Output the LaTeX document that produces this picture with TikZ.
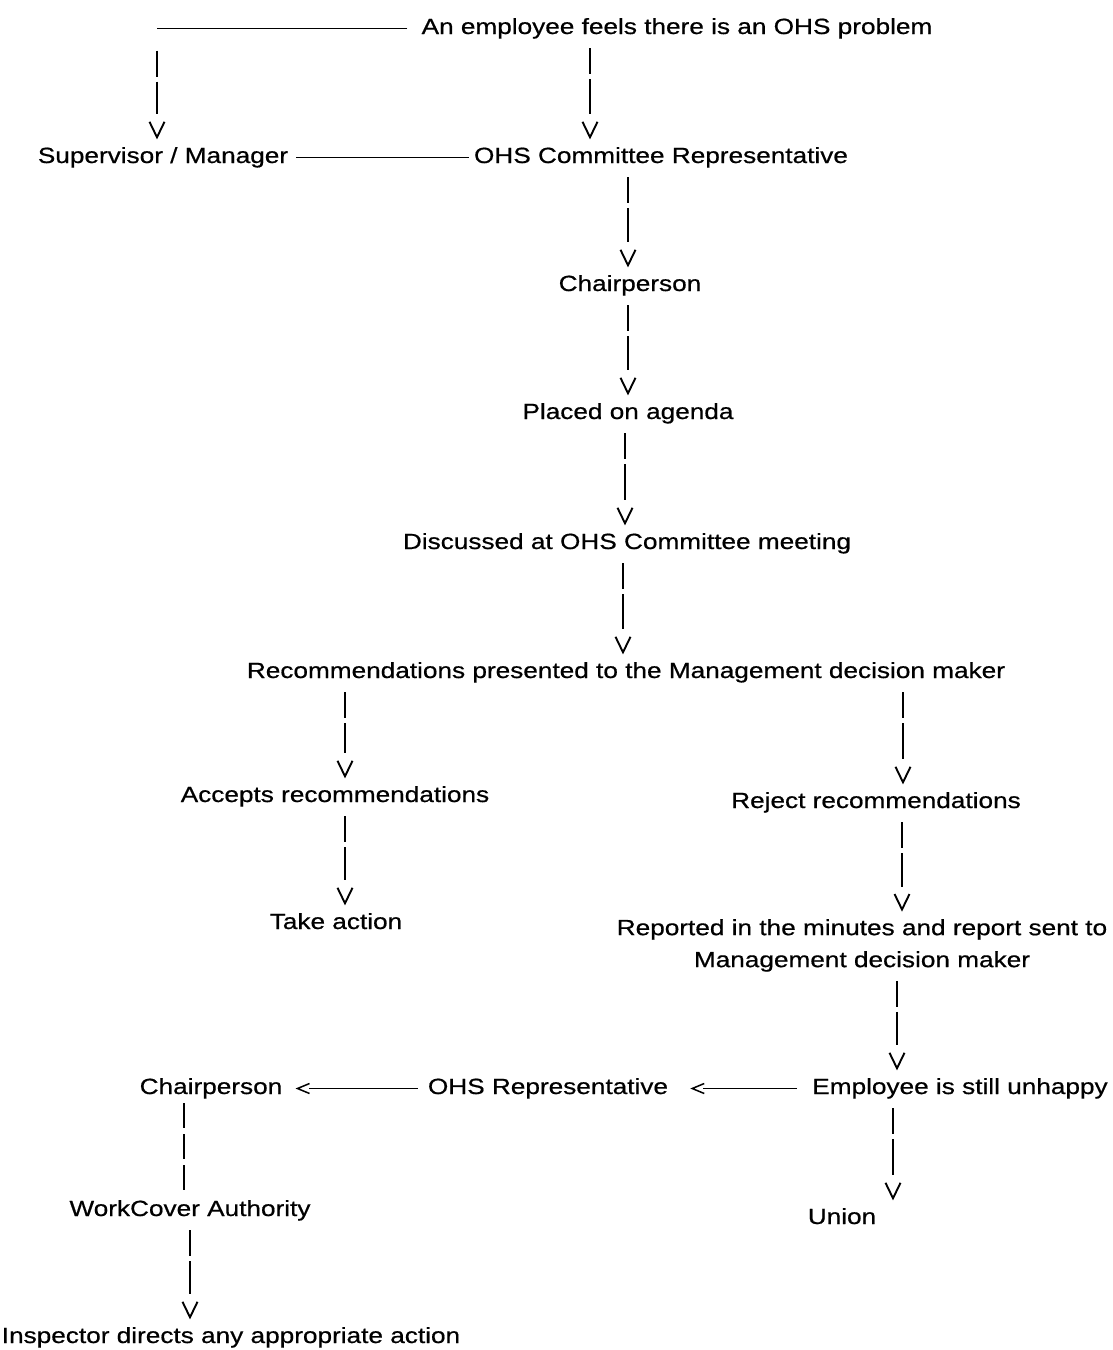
\documentclass[tikz,border=0pt]{standalone}
\usepackage{fontspec}
\setmainfont[FakeStretch=1.19,FakeBold=0.6]{Liberation Sans}
\usetikzlibrary{arrows.meta}

\pgfdeclarearrow{
  name = AsciiV,
  parameters = {},
  setup code = {
    \pgfarrowssettipend{0pt}
    \pgfarrowssetbackend{-15.5pt}
    \pgfarrowssetlineend{-23pt}
    \pgfarrowshullpoint{0pt}{0pt}
    \pgfarrowsupperhullpoint{-15.5pt}{7.5pt}
  },
  drawing code = {
    \pgfsetdash{}{0pt}
    \pgfsetmiterjoin
    \pgfpathmoveto{\pgfqpoint{-15.5pt}{7.5pt}}
    \pgfpathlineto{\pgfqpoint{0pt}{0pt}}
    \pgfpathlineto{\pgfqpoint{-15.5pt}{-7.5pt}}
    \pgfusepathqstroke
  }
}
\pgfdeclarearrow{
  name = AsciiLt,
  parameters = {},
  setup code = {
    \pgfarrowssettipend{0pt}
    \pgfarrowssetbackend{-12pt}
    \pgfarrowssetlineend{-11pt}
    \pgfarrowshullpoint{0pt}{0pt}
    \pgfarrowsupperhullpoint{-12pt}{5pt}
  },
  drawing code = {
    \pgfsetdash{}{0pt}
    \pgfsetmiterjoin
    \pgfpathmoveto{\pgfqpoint{-12pt}{5pt}}
    \pgfpathlineto{\pgfqpoint{0pt}{0pt}}
    \pgfpathlineto{\pgfqpoint{-12pt}{-5pt}}
    \pgfusepathqstroke
  }
}

\tikzset{
  lbl/.style={font=\fontsize{22pt}{26pt}\selectfont, inner sep=0pt,
    text height=16pt, text depth=5pt, anchor=base},
  stem/.style={line width=1.9pt, dash pattern=on 26pt off 5pt on 200pt off 10pt},
  stemthree/.style={line width=1.9pt, dash pattern=on 25pt off 6pt},
  vflow/.style={stem, -{AsciiV}, shorten <=9pt, shorten >=9.5pt},
  hline/.style={line width=1.5pt},
  lflow/.style={hline, -{AsciiLt}},
}

\begin{document}
\begin{tikzpicture}[x=1pt, y=-1pt]
\useasboundingbox (0,0) rectangle (1113,1350);

% nodes
\node[lbl] (emp) at (677,34) {An employee feels there is an OHS problem};
\node[lbl] (sup) at (163,163) {Supervisor / Manager};
\node[lbl] (ohsrep) at (661,163) {OHS Committee Representative};
\node[lbl] (chair1) at (630,291) {Chairperson};
\node[lbl] (agenda) at (628,419) {Placed on agenda};
\node[lbl] (disc) at (627,549) {Discussed at OHS Committee meeting};
\node[lbl] (recs) at (626,678) {Recommendations presented to the Management decision maker};
\node[lbl] (accepts) at (335,802) {Accepts recommendations};
\node[lbl] (reject) at (876,808) {Reject recommendations};
\node[lbl] (take) at (336,929) {Take action};
\node[lbl, text height={}, text depth={}, anchor=north, align=center,
      font=\fontsize{22pt}{32pt}\selectfont] (reported) at (862,919)
      {Reported in the minutes and report sent to\\Management decision maker};
\node[lbl] (unhappy) at (960,1094) {Employee is still unhappy};
\node[lbl] (ohs2) at (548,1094) {OHS Representative};
\node[lbl] (chair2) at (211,1094) {Chairperson};
\node[lbl] (workcover) at (190,1216) {WorkCover Authority};
\node[lbl] (union) at (842,1224) {Union};
\node[lbl] (inspector) at (231,1343) {Inspector directs any appropriate action};

% stem x positions
\coordinate (xa) at (157,0);
\coordinate (xb) at (590,0);
\coordinate (xc) at (628,0);
\coordinate (xd) at (625,0);
\coordinate (xe) at (623,0);
\coordinate (xf) at (345,0);
\coordinate (xg) at (903,0);
\coordinate (xh) at (902,0);
\coordinate (xi) at (897,0);
\coordinate (xj) at (184,0);
\coordinate (xk) at (893,0);
\coordinate (xl) at (190,0);

% connectors
\draw[hline, shorten <=14pt] (emp.west) -- (emp.west -| xa);
\draw[vflow, shorten <=22pt] (emp.west -| xa) -- (sup.north -| xa);
\draw[vflow] (emp.south -| xb) -- (ohsrep.north -| xb);
\draw[hline, shorten <=8pt, shorten >=5pt] (sup.east) -- (ohsrep.west);
\draw[vflow] (ohsrep.south -| xc) -- (chair1.north -| xc);
\draw[vflow] (chair1.south -| xc) -- (agenda.north -| xc);
\draw[vflow] (agenda.south -| xd) -- (disc.north -| xd);
\draw[vflow] (disc.south -| xe) -- (recs.north -| xe);
\draw[vflow] (recs.south -| xf) -- (accepts.north -| xf);
\draw[vflow] (recs.south -| xg) -- (reject.north -| xg);
\draw[vflow] (accepts.south -| xf) -- (take.north -| xf);
\draw[vflow] (reject.south -| xh) -- (reported.north -| xh);
\draw[vflow] (reported.south -| xi) -- (unhappy.north -| xi);
\draw[lflow, shorten <=15pt, shorten >=24pt] (unhappy.west) -- (ohs2.east);
\draw[lflow, shorten <=10pt, shorten >=15pt] (ohs2.west) -- (chair2.east);
\draw[stemthree, shorten <=4pt, shorten >=10pt] (chair2.south -| xj) -- (workcover.north -| xj);
\draw[vflow] (unhappy.south -| xk) -- (union.north -| xk);
\draw[vflow] (workcover.south -| xl) -- (inspector.north -| xl);
\end{tikzpicture}
\end{document}
